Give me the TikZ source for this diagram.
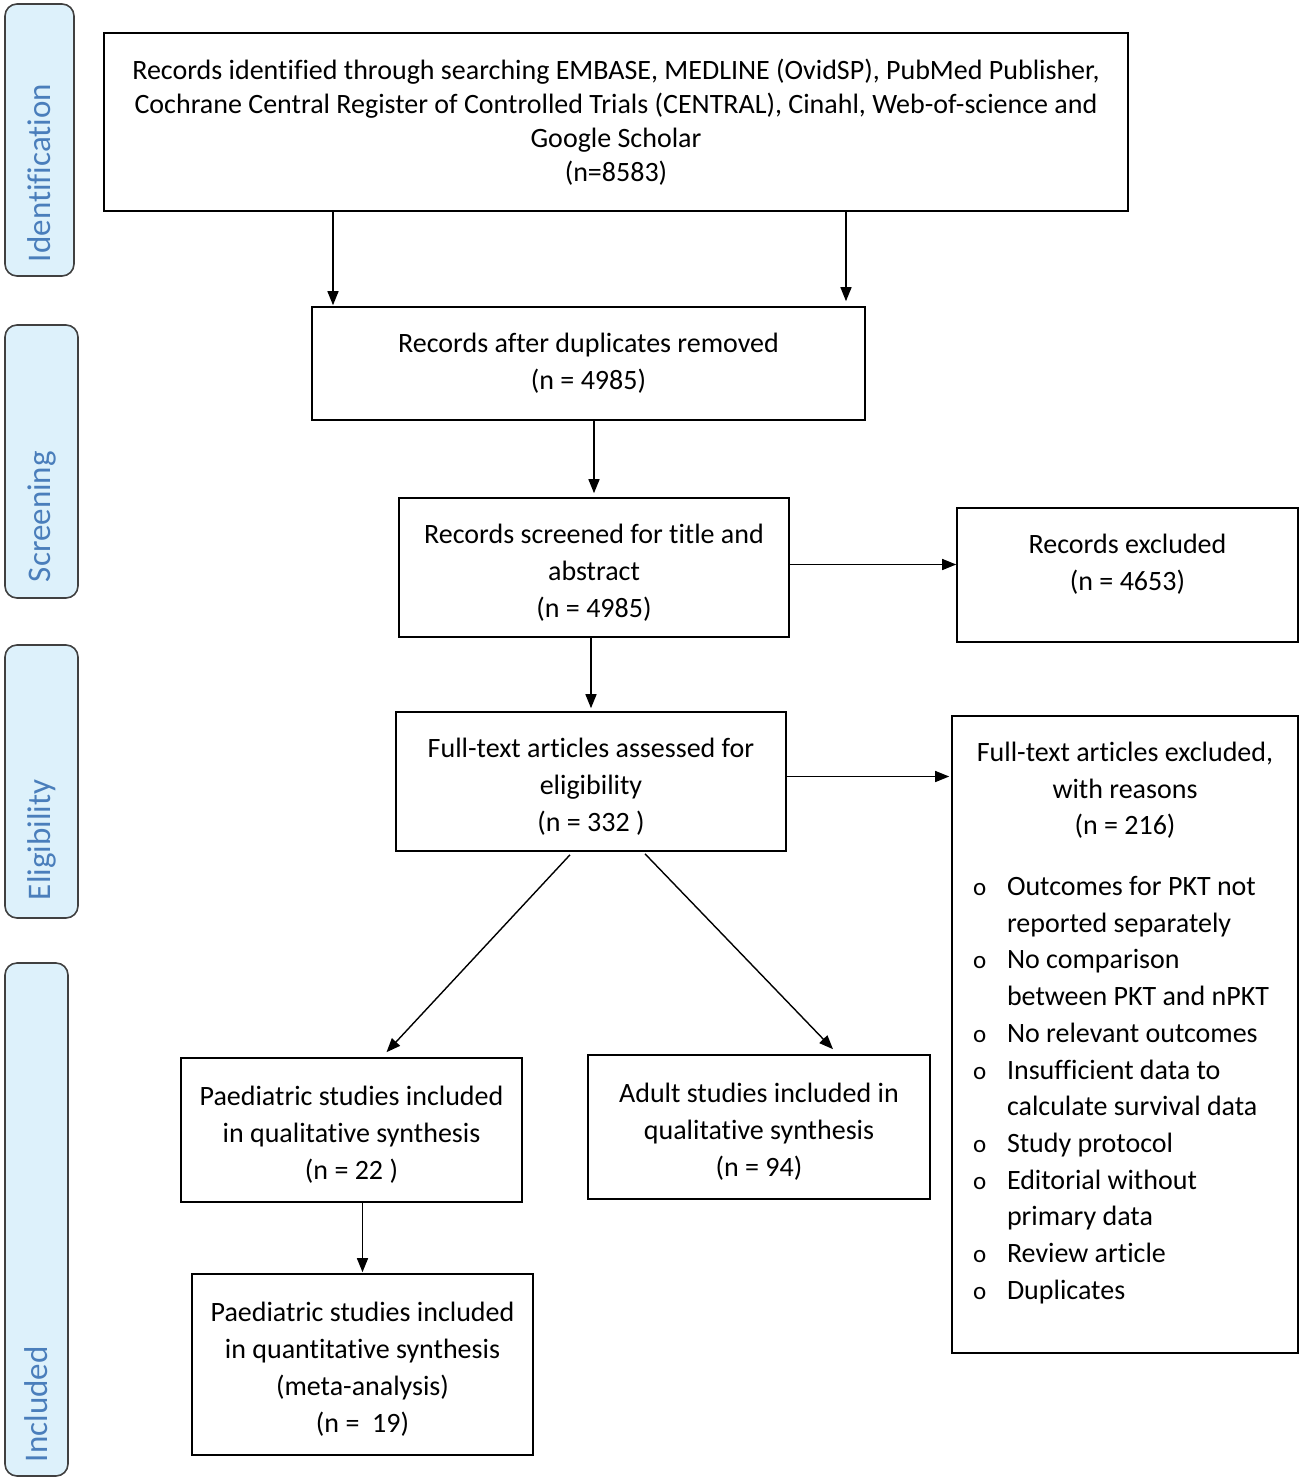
\documentclass[tikz,border=0pt]{standalone}
\usepackage{fontspec}
\setmainfont{Carlito}[Ligatures=NoCommon]
\usetikzlibrary{arrows.meta,calc}
\definecolor{phasefill}{HTML}{DDF1FB}
\definecolor{phasetext}{HTML}{4A7EBB}
\definecolor{phaseline}{HTML}{404040}
\newcommand\pitem{\par\noindent\llap{\makebox[34pt][l]{\fontsize{25}{25}\selectfont o}}}
\newcommand\dnstrut{\rule{0pt}{29pt}}
\begin{document}
\begin{tikzpicture}[x=1pt,y=-1pt,
  box/.style={draw, line width=1.6pt, align=center, inner sep=0pt, font=\fontsize{28}{37}\selectfont},
  arr/.style={-{Triangle[length=14pt,width=11pt]}, line width=1.4pt},
  phase/.style={draw=phaseline, fill=phasefill, rounded corners=12pt, line width=1.6pt,
    rotate=90, align=left, text=phasetext, font=\fontsize{33}{36}\selectfont, inner sep=0pt}]
\useasboundingbox (0,0) rectangle (1303,1481);

% phase labels
\node[phase, minimum width=272, minimum height=69, text width=244] (ident) at (39.5,140) {Identification};
\node[phase, minimum width=273, minimum height=73, text width=241] (scrn) at (41.5,461.5) {Screening};
\node[phase, minimum width=273, minimum height=73, text width=237] (elig) at (41.5,781.5) {Eligibility};
\node[phase, minimum width=513, minimum height=63, text width=485] (incl) at (36.5,1219.5) {Included};

% boxes
\node[box, minimum width=1024, minimum height=178, font=\fontsize{28}{34}\selectfont] (top) at (616,122)
  {Records identified through searching EMBASE, MEDLINE (OvidSP), PubMed Publisher,\\
   Cochrane Central Register of Controlled Trials (CENTRAL), Cinahl, Web-of-science and\\
   Google Scholar\\ (n=8583)};
\node[box, minimum width=553, minimum height=113] (dup) at (588.5,363.5)
  {Records after duplicates removed\\ (n = 4985)};
\node[box, minimum width=390, minimum height=139] (scr) at (594,567.5)
  {\dnstrut Records screened for title and\\ abstract\\ (n = 4985)};
\node[box, minimum width=341, minimum height=134] (exc) at (1127.5,575)
  {Records excluded\\ (n = 4653)\rule[-26pt]{0pt}{0pt}};
\node[box, minimum width=390, minimum height=139] (ft) at (591,781.5)
  {\dnstrut Full-text articles assessed for\\ eligibility\\ (n = 332 )};
\node[box, minimum width=346, minimum height=637, align=left] (exc2) at (1125,1034.5)
  {\begin{minipage}[c][637pt][t]{346pt}\fontsize{28}{36.7}\selectfont
   \vspace*{26pt}%
   {\centering Full-text articles excluded,\\ with reasons\\ (n = 216)\par}
   \vspace{24pt}%
   \leftskip=55pt\parindent=0pt
   \pitem Outcomes for PKT not\\ reported separately
   \pitem No comparison\\ between PKT and nPKT
   \pitem No relevant outcomes
   \pitem Insufficient data to\\ calculate survival data
   \pitem Study protocol
   \pitem Editorial without\\ primary data
   \pitem Review article
   \pitem Duplicates\par
   \end{minipage}};
\node[box, minimum width=341, minimum height=144] (paed) at (351.5,1130)
  {\dnstrut Paediatric studies included\\ in qualitative synthesis\\ (n = 22 )};
\node[box, minimum width=342, minimum height=144] (adult) at (759,1127)
  {\dnstrut Adult studies included in\\ qualitative synthesis\\ (n = 94)};
\node[box, minimum width=341, minimum height=181] (meta) at (362.5,1364.5)
  {\dnstrut Paediatric studies included\\ in quantitative synthesis\\ (meta-analysis)\\ (n =\ \ 19)};

% connectors
\coordinate (c1) at (333,0);
\coordinate (c2) at (846,0);
\draw[arr] (top.south -| c1) -- ($(dup.north -| c1)+(0,-1)$);
\draw[arr] (top.south -| c2) -- ($(dup.north -| c2)+(0,-5)$);
\draw[arr] (dup.south -| scr.north) -- ($(scr.north)+(0,-4)$);
\draw[arr] ($(scr.east)+(0,-3)$) -- ($(scr.east -| exc.west)+(0,-3)$);
\draw[arr] (scr.south -| ft.north) -- ($(ft.north)+(0,-3)$);
\draw[arr] ($(ft.east)+(0,-5)$) -- ($(ft.east -| exc2.west)+(-2,-5)$);
\draw[arr] ($(ft.south)+(-21,3)$) -- ($(paed.north)+(35,-5)$);
\draw[arr] ($(ft.south)+(54,2)$) -- ($(adult.north)+(74,-5)$);
\draw[arr] (paed.south -| meta.north) -- ($(meta.north)+(0,-1)$);
\end{tikzpicture}
\end{document}
